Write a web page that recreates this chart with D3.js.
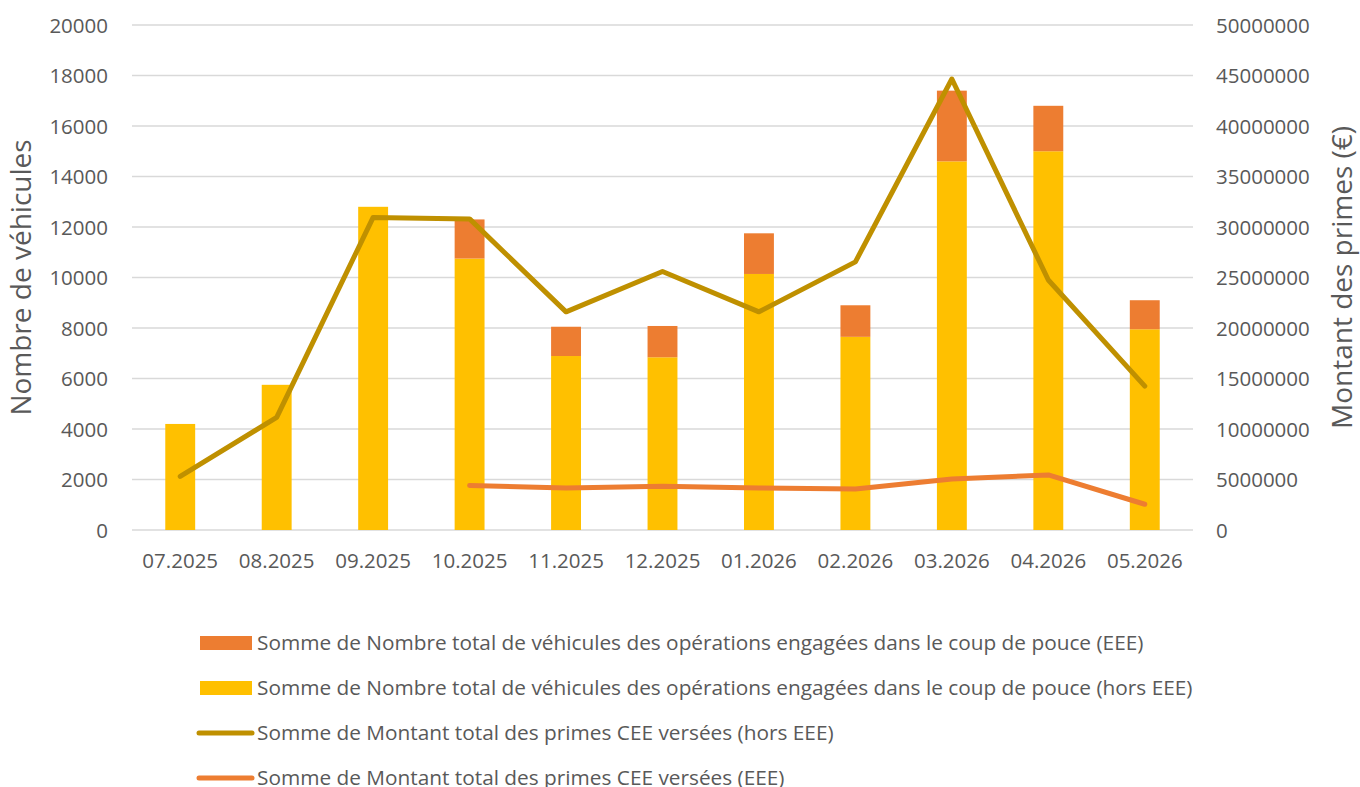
<!DOCTYPE html>
<html>
<head>
<meta charset="utf-8">
<script src="https://cdn.jsdelivr.net/npm/d3@7/dist/d3.min.js"></script>
<style>
  body { margin: 0; background: #fff; }
  svg text { font-family: "Open Sans", "Noto Sans", sans-serif; fill: #595959; }
</style>
</head>
<body>
<svg id="chart" width="1360" height="787"></svg>
<script>
// data
const months = ["07.2025", "08.2025", "09.2025", "10.2025", "11.2025", "12.2025",
                "01.2026", "02.2026", "03.2026", "04.2026", "05.2026"];
const vehHorsEEE = [4200, 5750, 12800, 10750, 6890, 6840, 10140, 7650, 14600, 15000, 7950];
const vehEEE = [0, 0, 0, 1550, 1160, 1240, 1610, 1250, 2800, 1800, 1150];
const primesHorsEEE = [5300000, 11150000, 30950000, 30800000, 21600000, 25600000,
                       21600000, 26550000, 44650000, 24750000, 14250000];
const primesEEE = [null, null, null, 4400000, 4150000, 4320000, 4170000, 4050000,
                   5050000, 5450000, 2550000];
const leftTicks = [0, 2000, 4000, 6000, 8000, 10000, 12000, 14000, 16000, 18000, 20000];
const rightTicks = [0, 5000000, 10000000, 15000000, 20000000, 25000000, 30000000,
                    35000000, 40000000, 45000000, 50000000];

const colYellow = "#FFC000";
const colOrange = "#ED7D31";
const colGold = "#BF9000";

const svg = d3.select("#chart");
const plot = { left: 132, right: 1193, top: 25, bottom: 530 };

const x = d3.scaleBand()
    .domain(months)
    .range([plot.left, plot.right])
    .paddingInner(0.69)
    .paddingOuter(0.345);

const yL = d3.scaleLinear().domain([0, 20000]).range([plot.bottom, plot.top]);
const yR = d3.scaleLinear().domain([0, 50000000]).range([plot.bottom, plot.top]);

// gridlines
svg.append("g")
    .selectAll("line")
    .data(leftTicks)
    .join("line")
    .attr("x1", plot.left)
    .attr("x2", plot.right)
    .attr("y1", d => yL(d))
    .attr("y2", d => yL(d))
    .attr("stroke", "#d9d9d9")
    .attr("stroke-width", 1.3);

// left axis
let leftAxis = svg.append("g")
    .attr("transform", `translate(${plot.left - 24}, 0)`)
    .call(d3.axisLeft(yL).tickValues(leftTicks).tickSize(0).tickPadding(0).tickFormat(d3.format("d")));
leftAxis.select(".domain").remove();
leftAxis.selectAll("text")
    .attr("font-size", 20.5)
    .attr("dy", "0.35em")
    .style("font-family", "'Open Sans', sans-serif")
    .attr("fill", "#595959");

// right axis
let rightAxis = svg.append("g")
    .attr("transform", `translate(${plot.right + 23}, 0)`)
    .call(d3.axisRight(yR).tickValues(rightTicks).tickSize(0).tickPadding(0).tickFormat(d3.format("d")));
rightAxis.select(".domain").remove();
rightAxis.selectAll("text")
    .attr("font-size", 20.5)
    .attr("dy", "0.35em")
    .style("font-family", "'Open Sans', sans-serif")
    .attr("fill", "#595959");

// x axis
let xAxis = svg.append("g")
    .attr("transform", `translate(0, ${plot.bottom})`)
    .call(d3.axisBottom(x).tickSize(0).tickPadding(0));
xAxis.select(".domain").remove();
xAxis.selectAll("text")
    .attr("font-size", 20.5)
    .attr("y", 38)
    .attr("dy", 0)
    .style("font-family", "'Open Sans', sans-serif")
    .attr("fill", "#595959");

// axis titles
svg.append("text")
    .attr("transform", `translate(31, ${(plot.top + plot.bottom) / 2}) rotate(-90)`)
    .attr("text-anchor", "middle")
    .attr("font-size", 28)
    .text("Nombre de véhicules");

svg.append("text")
    .attr("transform", `translate(1352, ${(plot.top + plot.bottom) / 2}) rotate(-90)`)
    .attr("text-anchor", "middle")
    .attr("font-size", 28)
    .text("Montant des primes (€)");

// stacked bars
const barRows = months.map((m, i) => ({ month: m, hors: vehHorsEEE[i], eee: vehEEE[i] }));
const stack = d3.stack().keys(["hors", "eee"])(barRows);
const barColors = { hors: colYellow, eee: colOrange };

svg.append("g")
    .selectAll("g")
    .data(stack)
    .join("g")
    .attr("fill", d => barColors[d.key])
    .selectAll("rect")
    .data(d => d.filter(s => s[1] > s[0]))
    .join("rect")
    .attr("x", d => x(d.data.month))
    .attr("width", x.bandwidth())
    .attr("y", d => yL(d[1]))
    .attr("height", d => yL(d[0]) - yL(d[1]));

// lines
const cx = m => x(m) + x.bandwidth() / 2;
const line = d3.line()
    .defined(d => d.v !== null)
    .x(d => cx(d.m))
    .y(d => yR(d.v));

svg.append("path")
    .datum(months.map((m, i) => ({ m: m, v: primesHorsEEE[i] })))
    .attr("d", line)
    .attr("fill", "none")
    .attr("stroke", colGold)
    .attr("stroke-width", 5)
    .attr("stroke-linecap", "round")
    .attr("stroke-linejoin", "round");

svg.append("path")
    .datum(months.map((m, i) => ({ m: m, v: primesEEE[i] })))
    .attr("d", line)
    .attr("fill", "none")
    .attr("stroke", colOrange)
    .attr("stroke-width", 5)
    .attr("stroke-linecap", "round")
    .attr("stroke-linejoin", "round");

// legend
const legendItems = [
    { label: "Somme de Nombre total de véhicules des opérations engagées dans le coup de pouce (EEE)", color: colOrange, type: "rect" },
    { label: "Somme de Nombre total de véhicules des opérations engagées dans le coup de pouce (hors EEE)", color: colYellow, type: "rect" },
    { label: "Somme de Montant total des primes CEE versées (hors EEE)", color: colGold, type: "line" },
    { label: "Somme de Montant total des primes CEE versées (EEE)", color: colOrange, type: "line" }
];

let legend = svg.append("g").attr("transform", "translate(200, 643)");
let items = legend.selectAll("g")
    .data(legendItems)
    .join("g")
    .attr("transform", (d, i) => `translate(0, ${i * 45})`);

items.filter(d => d.type === "rect")
    .append("rect")
    .attr("x", 0)
    .attr("y", -7)
    .attr("width", 52)
    .attr("height", 14)
    .attr("fill", d => d.color);

items.filter(d => d.type === "line")
    .append("line")
    .attr("x1", -1)
    .attr("x2", 52)
    .attr("y1", 0)
    .attr("y2", 0)
    .attr("stroke", d => d.color)
    .attr("stroke-width", 5)
    .attr("stroke-linecap", "round");

items.append("text")
    .attr("x", 57)
    .attr("y", 0)
    .attr("dy", "0.35em")
    .attr("font-size", 20.8)
    .text(d => d.label);
</script>
</body>
</html>
